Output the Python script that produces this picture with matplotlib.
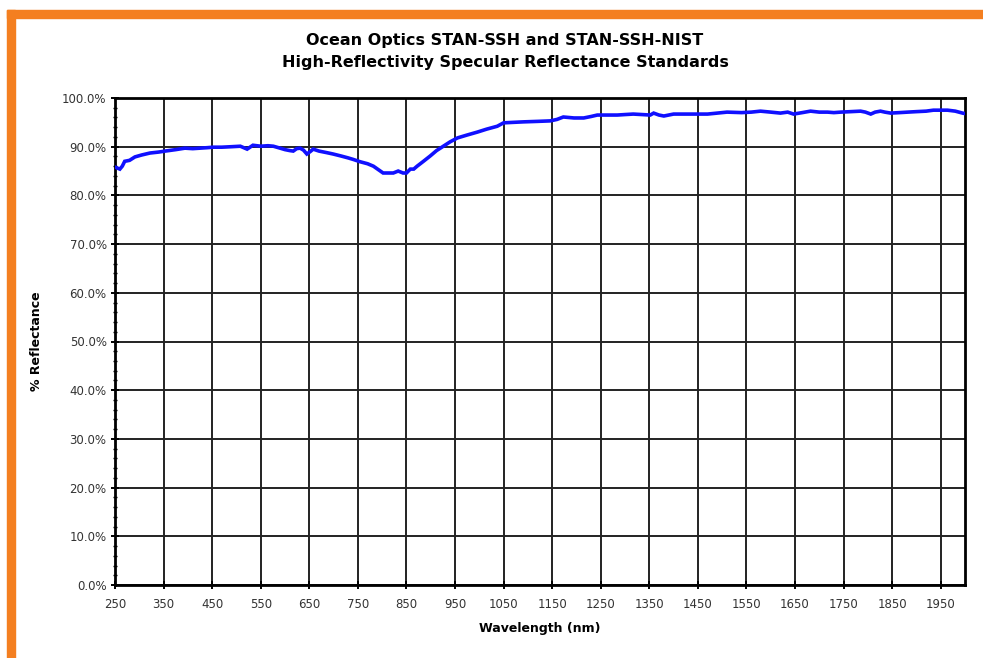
import numpy as np
import matplotlib
matplotlib.use("Agg")
import matplotlib.pyplot as plt
from matplotlib.patches import Rectangle
from matplotlib.ticker import MultipleLocator, FuncFormatter

# wavelength (nm) and reflectance (%)
wavelength = [250, 260, 265, 270, 280, 291, 305, 322, 340, 353, 375, 394, 410, 425,
              440, 452, 470, 490, 508, 515, 522, 528, 534, 550, 565, 576, 590, 600,
              610, 617, 624, 631, 638, 645, 652, 658, 670, 685, 699, 715, 730, 740,
              755, 770, 782, 792, 802, 812, 823, 833, 843, 850, 858, 865, 872, 885,
              899, 912, 926, 940, 955, 975, 996, 1015, 1037, 1050, 1070, 1091, 1120,
              1146, 1160, 1173, 1195, 1215, 1230, 1243, 1265, 1284, 1300, 1317, 1335,
              1352, 1359, 1370, 1380, 1400, 1430, 1470, 1490, 1510, 1540, 1560, 1579,
              1600, 1620, 1635, 1647, 1665, 1682, 1700, 1717, 1730, 1744, 1765, 1785,
              1795, 1806, 1815, 1826, 1835, 1847, 1865, 1882, 1900, 1920, 1935, 1950,
              1964, 1980, 1995, 2000]
reflectance = [85.8, 85.4, 86.0, 87.0, 87.2, 87.9, 88.3, 88.7, 88.9, 89.1, 89.4, 89.7,
               89.6, 89.7, 89.8, 89.9, 89.9, 90.0, 90.1, 89.8, 89.5, 89.9, 90.3, 90.1,
               90.2, 90.1, 89.7, 89.4, 89.2, 89.1, 89.6, 89.7, 89.3, 88.5, 89.0, 89.5,
               89.1, 88.8, 88.5, 88.1, 87.7, 87.4, 86.9, 86.5, 86.0, 85.3, 84.6, 84.6,
               84.6, 85.0, 84.6, 84.6, 85.4, 85.4, 86.0, 87.0, 88.1, 89.2, 90.1, 91.0,
               91.8, 92.4, 93.0, 93.6, 94.2, 94.9, 95.0, 95.1, 95.2, 95.3, 95.6, 96.1,
               95.9, 95.9, 96.2, 96.5, 96.5, 96.5, 96.6, 96.7, 96.6, 96.5, 96.9, 96.5,
               96.3, 96.7, 96.7, 96.7, 96.9, 97.1, 97.0, 97.1, 97.3, 97.1, 96.9, 97.1,
               96.7, 97.0, 97.3, 97.1, 97.1, 97.0, 97.1, 97.2, 97.3, 97.1, 96.7, 97.1,
               97.3, 97.1, 96.9, 97.0, 97.1, 97.2, 97.3, 97.5, 97.5, 97.5, 97.3, 96.9,
               96.8]

fig = plt.figure(figsize=(9.83, 6.58), dpi=100)
fig.patch.set_facecolor('white')

# orange frame on top and left
orange = '#F47F20'
fig.patches.append(Rectangle((7/983, 0), 8/983, 1 - 10/658, transform=fig.transFigure,
                             color=orange, zorder=0))
fig.patches.append(Rectangle((7/983, 1 - 18/658), 1 - 7/983, 8/658, transform=fig.transFigure,
                             color=orange, zorder=0))

ax = fig.add_axes([115/983, 73/658, 850/983, 487/658])
ax.plot(wavelength, reflectance, color='#1010FF', lw=2.6, solid_joinstyle='miter', zorder=3)

ax.set_xlim(250, 2000)
ax.set_ylim(0, 100)
ax.set_xticks(np.arange(250, 2000, 100))
ax.yaxis.set_major_locator(MultipleLocator(10))
ax.yaxis.set_minor_locator(MultipleLocator(2))
ax.yaxis.set_major_formatter(FuncFormatter(lambda v, p: '%.1f%%' % v))

ax.grid(True, which='major', color='#222222', lw=1.4)
for s in ax.spines.values():
    s.set_linewidth(2)
    s.set_color('black')

tick_font = {'family': 'DejaVu Sans', 'size': 8.5}
ax.tick_params(axis='both', which='major', direction='inout', length=6, width=1.4,
               labelsize=8.5, colors='black', labelcolor='#333333')
ax.tick_params(axis='y', which='minor', direction='inout', length=3, width=1)
ax.tick_params(axis='x', pad=6)
ax.tick_params(axis='y', pad=3)

ax.set_xlabel('Wavelength (nm)', fontsize=9, fontweight='bold', labelpad=8)
ax.set_ylabel('% Reflectance', fontsize=9, fontweight='bold', labelpad=14)

title_font = ['Liberation Sans Narrow', 'DejaVu Sans']
fig.text(505/983, 1 - 40/658, 'Ocean Optics STAN-SSH and STAN-SSH-NIST', ha='center',
         va='center', fontsize=11.5, fontweight='bold', family=title_font)
fig.text(505/983, 1 - 62/658, 'High-Reflectivity Specular Reflectance Standards', ha='center',
         va='center', fontsize=11.5, fontweight='bold', family=title_font)

fig.savefig('out.png', dpi=100)
